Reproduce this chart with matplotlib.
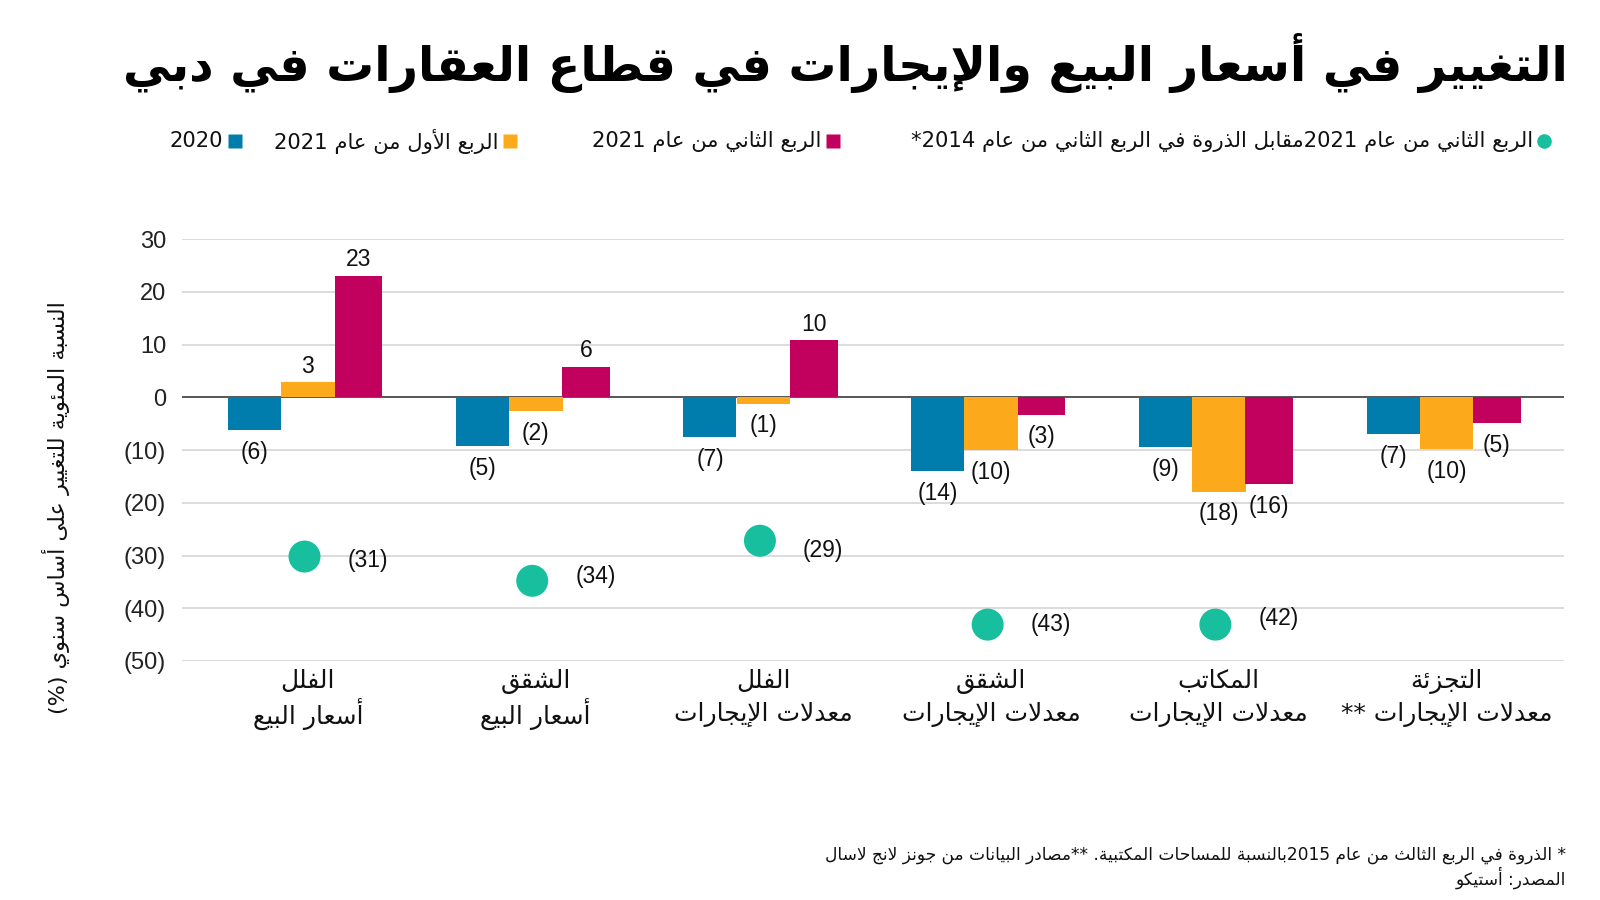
import re
import numpy as np
import matplotlib
matplotlib.use('Agg')
import matplotlib.pyplot as plt

plt.rcParams['font.family'] = ['DejaVu Sans']

# data
categories = ['الفلل\nأسعار البيع', 'الشقق\nأسعار البيع', 'الفلل\nمعدلات الإيجارات',
              'الشقق\nمعدلات الإيجارات', 'المكاتب\nمعدلات الإيجارات',
              'التجزئة\nمعدلات الإيجارات **']
# bar heights as drawn
y2020 = [-6.3, -9.3, -7.6, -14.0, -9.5, -7.0]
q1_2021 = [2.8, -2.7, -1.2, -10.0, -17.9, -9.9]
q2_2021 = [23.0, 5.8, 10.8, -3.3, -16.5, -4.9]
# printed values
lab2020 = [-6, -5, -7, -14, -9, -7]
lab_q1 = [3, -2, -1, -10, -18, -10]
lab_q2 = [23, 6, 10, -3, -16, -5]
# q2 2021 vs peak (first five categories)
peak = [-30.2, -34.8, -27.2, -43.1, -43.1]
lab_peak = [-31, -34, -29, -43, -42]
yticks = [30, 20, 10, 0, -10, -20, -30, -40, -50]

title = 'التغيير في أسعار البيع والإيجارات في قطاع العقارات في دبي'
leg_peak = 'الربع الثاني من عام 2021مقابل الذروة في الربع الثاني من عام 2014*'
leg_q2 = 'الربع الثاني من عام 2021'
leg_q1 = 'الربع الأول من عام 2021'
leg_2020 = '2020'
ylabel = 'النسبة المئوية للتغيير على أساس سنوي (%)'
note1 = '* الذروة في الربع الثالث من عام 2015بالنسبة للمساحات المكتبية. **مصادر البيانات من جونز لانج لاسال'
note2 = 'المصدر: أستيكو'

BLUE = '#007CAD'
ORANGE = '#FCAA1C'
MAGENTA = '#C2005E'
TEAL = '#18BF9E'

# --- minimal arabic shaping (presentation forms) + visual reordering ---
AR_LETTERS = 'ءآأؤإئابةتثجحخدذرزسشصضطظعغفقكلمنهوىي'
AR_NFORMS = [1, 2, 2, 2, 2, 4, 2, 4, 2, 4, 4, 4, 4, 4, 2, 2, 2, 2, 4, 4,
             4, 4, 4, 4, 4, 4, 4, 4, 4, 4, 4, 4, 4, 2, 2, 4]
FORMS = {}
code = 0xFE80
for ch, n in zip(AR_LETTERS, AR_NFORMS):
    FORMS[ch] = [chr(code + i) for i in range(n)]
    code += n
LAM_ALEF = {'آ': 0xFEF5, 'أ': 0xFEF7, 'إ': 0xFEF9, 'ا': 0xFEFB}


def nforms(c):
    if isinstance(c, tuple):
        return 2
    return len(FORMS.get(c, []))


def shape(s):
    chars = []
    i = 0
    while i < len(s):
        if s[i] == 'ل' and i + 1 < len(s) and s[i + 1] in LAM_ALEF:
            chars.append(('la', s[i + 1]))
            i += 2
        else:
            chars.append(s[i])
            i += 1
    out = []
    for k, c in enumerate(chars):
        n = nforms(c)
        if n == 0:
            out.append(c)
            continue
        prev = chars[k - 1] if k > 0 else None
        nxt = chars[k + 1] if k + 1 < len(chars) else None
        jp = n >= 2 and prev is not None and nforms(prev) == 4
        jn = n == 4 and nxt is not None and nforms(nxt) >= 2
        if isinstance(c, tuple):
            out.append(chr(LAM_ALEF[c[1]] + (1 if jp else 0)))
            continue
        idx = 3 if (jp and jn) else 2 if jn else 1 if jp else 0
        out.append(FORMS[c][idx])
    return ''.join(out)


def ar(s):
    lines = []
    for line in s.split('\n'):
        t = shape(line)[::-1]
        t = re.sub(r'[0-9]+', lambda m: m.group(0)[::-1], t)
        lines.append(t.translate(str.maketrans('()', ')(')))
    return '\n'.join(lines)


def fmt(v):
    return str(v) if v >= 0 else '({})'.format(-v)


fig = plt.figure(figsize=(16, 9), dpi=100)
renderer = fig.canvas.get_renderer()


def fit(t, target, use_height=False):
    bb = t.get_window_extent(renderer)
    size = bb.height if use_height else bb.width
    t.set_fontsize(t.get_fontsize() * target / size)
    return t.get_fontsize()


# overlay in pixel coordinates for title, legend, notes
ov = fig.add_axes([0, 0, 1, 1])
ov.set_xlim(0, 1600)
ov.set_ylim(900, 0)
ov.axis('off')

t = ov.text(1568, 63, ar(title), ha='right', va='center', fontsize=40,
            fontweight='bold', color='black')
fit(t, 1446)

tp = ov.text(1533, 141, ar(leg_peak), ha='right', va='center', fontsize=14, color='#111')
fs_leg = fit(tp, 629)
ov.plot(1544, 141, 'o', ms=10.5, color=TEAL, mec='none')
for txt, col, tx in [(leg_q2, MAGENTA, 821), (leg_q1, ORANGE, 498), (leg_2020, BLUE, 223)]:
    ov.text(tx, 141, ar(txt), ha='right', va='center', fontsize=fs_leg, color='#111')
    ov.plot(tx + 12, 141, 's', ms=9.5, color=col, mec='none')

yl = ov.text(56, 508, ar(ylabel), rotation=90, ha='center', va='center',
             fontsize=16, color='#111')
fit(yl, 413, use_height=True)

n1 = ov.text(1566, 855, ar(note1), ha='right', va='center', fontsize=12, color='#111')
fs_note = fit(n1, 739)
ov.text(1566, 878, ar(note2), ha='right', va='center', fontsize=fs_note, color='#111')

# main chart
ax = fig.add_axes([182 / 1600, 1 - 661 / 900, (1564 - 182) / 1600, (661 - 239) / 900])
x = np.arange(len(categories))
ax.bar(x - 0.351, y2020, width=0.233, align='edge', color=BLUE, zorder=2)
ax.bar(x - 0.117, q1_2021, width=0.235, align='edge', color=ORANGE, zorder=2)
ax.bar(x + 0.117, q2_2021, width=0.209, align='edge', color=MAGENTA, zorder=2)

for off, vals, labs in [(-0.2345, y2020, lab2020), (0.0, q1_2021, lab_q1),
                        (0.2215, q2_2021, lab_q2)]:
    for xi, v, lab in zip(x, vals, labs):
        ax.annotate(fmt(lab), (xi + off, v), xytext=(0, 11.5 if v > 0 else -16),
                    textcoords='offset points', ha='center', va='center',
                    fontsize=16.5, family='Liberation Sans', color='#111')

xp = x[:len(peak)] - 0.015
ax.scatter(xp, peak, s=530, color=TEAL, edgecolors='none', zorder=3)
for xi, lab in zip(xp, lab_peak):
    ax.annotate(fmt(lab), (xi, lab), xytext=(31, 0), textcoords='offset points',
                ha='left', va='center', fontsize=16.5, family='Liberation Sans', color='#111')

ax.set_xlim(-0.553, 5.516)
ax.set_ylim(-50, 30)
ax.set_yticks(yticks)
ax.set_yticklabels([fmt(v) for v in yticks], family='Liberation Sans', fontsize=17, color='#222')
ax.yaxis.grid(True, color='#d9d9d9', lw=1.3, zorder=0)
ax.set_axisbelow(True)
ax.axhline(0, color='#333333', lw=1.1, zorder=1.5)
for s in ax.spines.values():
    s.set_visible(False)

# two-line category labels under each group, one text per line
probe = ax.text(0, 0, ar('معدلات الإيجارات'), fontsize=16)
fs_cat = fit(probe, 179)
probe.remove()
ax.set_xticks(x, [''] * len(x))
ax.tick_params(axis='both', length=0)
ax.tick_params(axis='y', pad=11.5)
tr = ax.get_xaxis_transform()
for xi, cat in zip(x, categories):
    top, bottom = cat.split('\n')
    ax.text(xi, -0.0474, ar(top), transform=tr, ha='center', va='center',
            fontsize=fs_cat, color='#111')
    ax.text(xi, -0.1256, ar(bottom), transform=tr, ha='center', va='center',
            fontsize=fs_cat, color='#111')

fig.savefig('out.png', dpi=100)
